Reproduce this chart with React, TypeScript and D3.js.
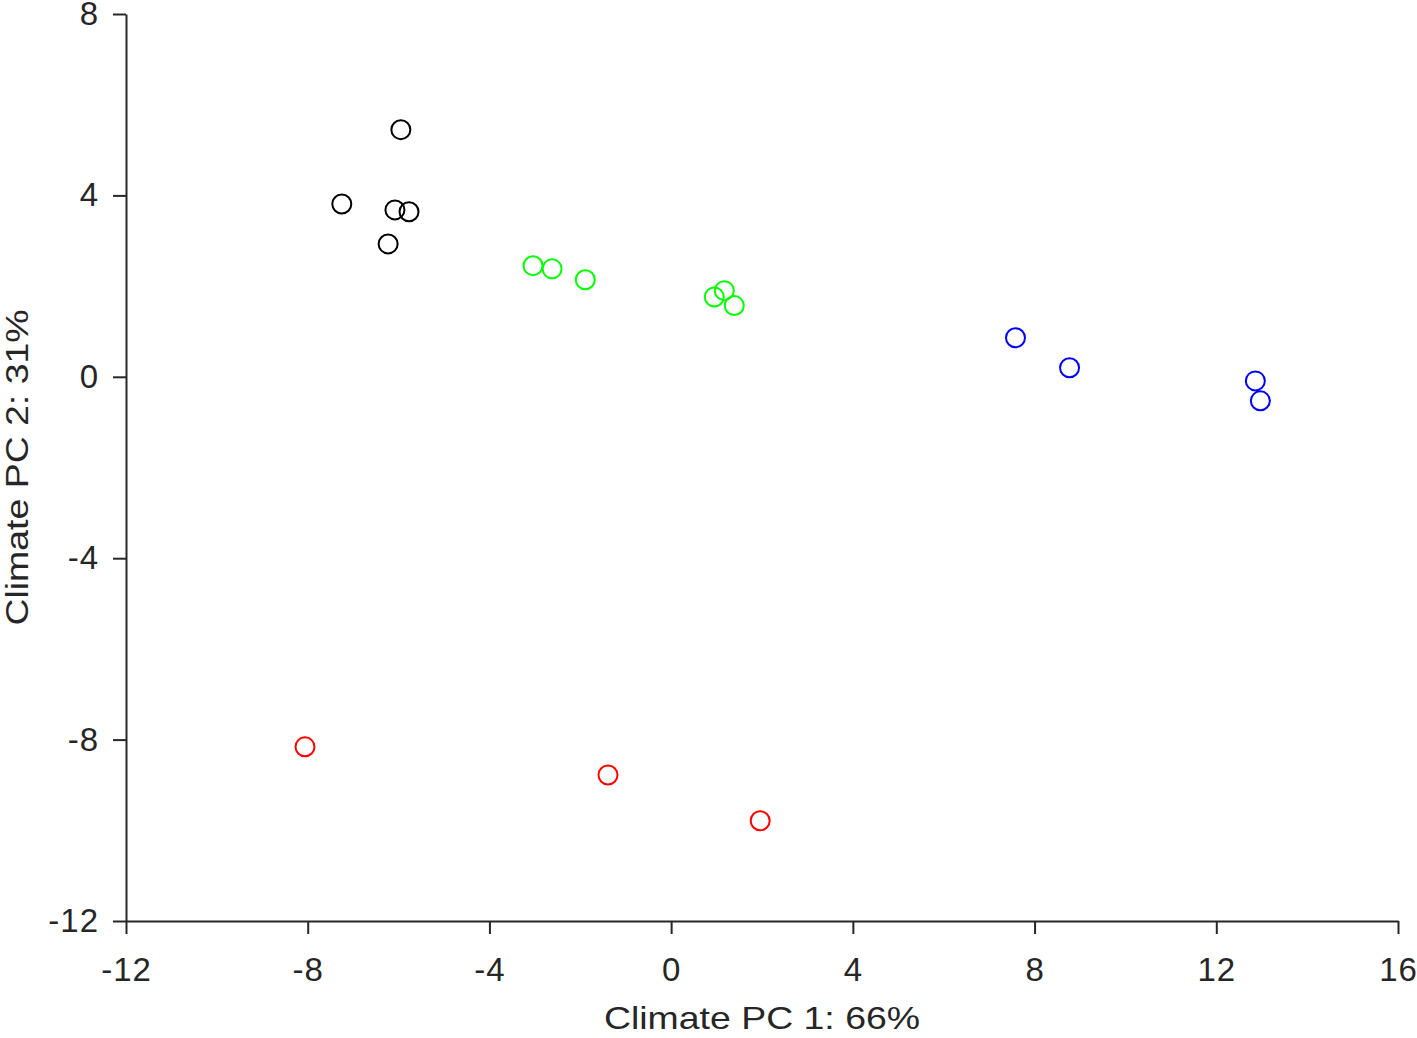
import { useEffect, useRef } from "react";
import * as d3 from "d3";

type Pt = [number, number];

// cluster points (PC1, PC2)
const blackPts: Pt[] = [
  [-5.95, 5.45],
  [-7.25, 3.81],
  [-6.08, 3.68],
  [-5.77, 3.64],
  [-6.23, 2.93],
];
const greenPts: Pt[] = [
  [-3.04, 2.45],
  [-2.62, 2.38],
  [-1.89, 2.14],
  [0.95, 1.76],
  [1.17, 1.9],
  [1.39, 1.57],
];
const bluePts: Pt[] = [
  [7.58, 0.86],
  [8.77, 0.2],
  [12.86, -0.09],
  [12.97, -0.53],
];
const redPts: Pt[] = [
  [-8.06, -8.16],
  [-1.39, -8.78],
  [1.96, -9.79],
];

const xTicks = [-12, -8, -4, 0, 4, 8, 12, 16];
const yTicks = [-12, -8, -4, 0, 4, 8];

const series = [
  { pts: blackPts, color: "#000000" },
  { pts: greenPts, color: "#00ff00" },
  { pts: bluePts, color: "#0000ff" },
  { pts: redPts, color: "#ff0000" },
];

export default function App() {
  const ref = useRef<SVGSVGElement | null>(null);

  useEffect(() => {
    const width = 1417;
    const height = 1038;
    const margin = { top: 14, right: 19, bottom: 117, left: 126 };

    const svg = d3.select(ref.current);
    svg.selectAll("*").remove();

    const x = d3
      .scaleLinear()
      .domain([-12, 16])
      .range([margin.left, width - margin.right]);
    const y = d3
      .scaleLinear()
      .domain([-12, 8])
      .range([height - margin.bottom, margin.top]);

    const axisColor = "#262626";
    const font = "Arial, 'Liberation Sans', sans-serif";
    const fmt = (d: d3.NumberValue) => String(d);

    const xAxis = svg
      .append("g")
      .attr("transform", `translate(0,${height - margin.bottom})`)
      .call(
        d3.axisBottom(x).tickValues(xTicks).tickFormat(fmt).tickSize(13).tickPadding(24).tickSizeOuter(0)
      );
    const yAxis = svg
      .append("g")
      .attr("transform", `translate(${margin.left},0)`)
      .call(
        d3.axisLeft(y).tickValues(yTicks).tickFormat(fmt).tickSize(13).tickPadding(14).tickSizeOuter(0)
      );

    [xAxis, yAxis].forEach((g) => {
      g.select(".domain").attr("stroke", axisColor).attr("stroke-width", 2);
      g.selectAll(".tick line").attr("stroke", axisColor).attr("stroke-width", 2);
      g.selectAll(".tick text")
        .attr("fill", "#262626")
        .style("font-family", font)
        .style("font-size", "33px")
        .style("letter-spacing", "1px");
    });

    for (const s of series) {
      svg
        .append("g")
        .selectAll("circle")
        .data(s.pts)
        .join("circle")
        .attr("cx", (d) => x(d[0]))
        .attr("cy", (d) => y(d[1]))
        .attr("r", 9.5)
        .attr("fill", "none")
        .attr("stroke", s.color)
        .attr("stroke-width", 2);
    }

    // the reference glyphs are a bit wider than Arial, so stretch horizontally
    svg
      .append("text")
      .attr(
        "transform",
        `translate(${(margin.left + width - margin.right) / 2},1029) scale(1.17,1)`
      )
      .attr("text-anchor", "middle")
      .attr("fill", "#262626")
      .style("font-family", font)
      .style("font-size", "32px")
      .text("Climate PC 1: 66%");

    svg
      .append("text")
      .attr(
        "transform",
        `translate(28,${(margin.top + height - margin.bottom) / 2}) rotate(-90) scale(1.17,1)`
      )
      .attr("text-anchor", "middle")
      .attr("fill", "#262626")
      .style("font-family", font)
      .style("font-size", "32px")
      .text("Climate PC 2: 31%");
  }, []);

  return (
    <svg
      ref={ref}
      width={1417}
      height={1038}
      style={{ position: "absolute", left: 0, top: 0, background: "#fff" }}
    />
  );
}
